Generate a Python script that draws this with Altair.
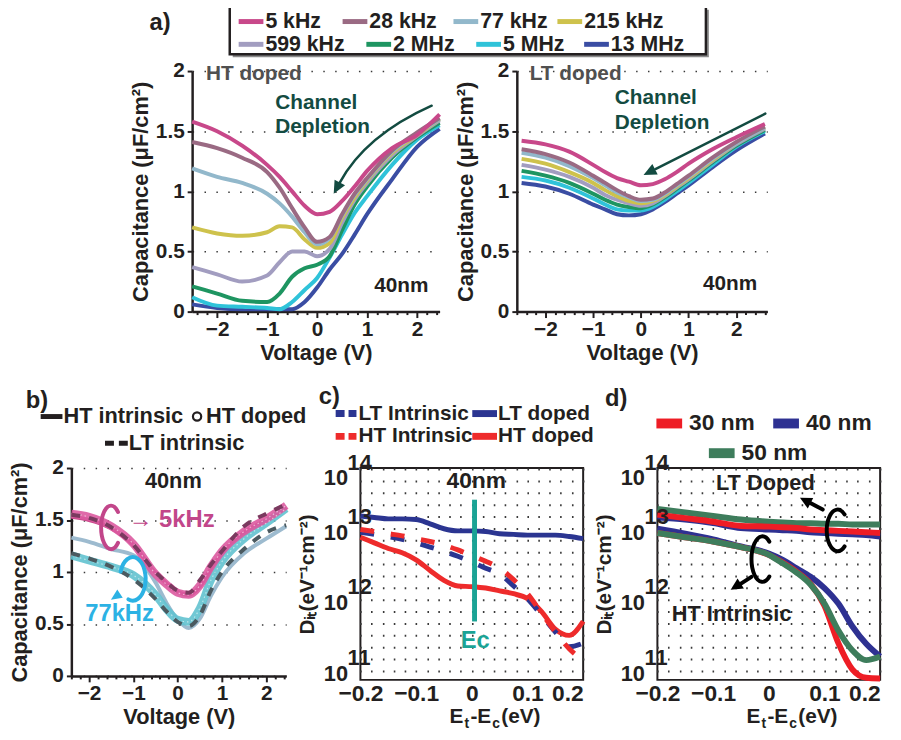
import math
import altair as alt
import pandas as pd

FONT = "Liberation Sans"
INK = "#231F20"
GRID = "#3A3A3A"

# ---------------- data: panel a (C-V, 8 frequencies) ----------------
freq_labels = ["5 kHz", "28 kHz", "77 kHz", "215 kHz", "599 kHz", "2 MHz", "5 MHz", "13 MHz"]
freq_colors = ["#C8488A", "#9A6A83", "#92B8CB", "#CEC24C", "#A29DC0", "#1E9561", "#2FC3D9", "#3A4DA3"]

v_ht = [-2.5, -2.0, -1.5, -1.0, -0.75, -0.5, -0.25, 0.0, 0.25, 0.5, 0.75, 1.0, 1.5, 2.0, 2.45]
ht_5k = [1.58, 1.50, 1.38, 1.22, 1.12, 1.00, 0.88, 0.81, 0.83, 0.92, 1.04, 1.17, 1.36, 1.47, 1.64]
ht_28k = [1.41, 1.36, 1.28, 1.16, 1.03, 0.86, 0.70, 0.58, 0.62, 0.81, 0.98, 1.11, 1.34, 1.49, 1.61]
ht_77k = [1.19, 1.12, 1.07, 0.98, 0.90, 0.79, 0.66, 0.56, 0.61, 0.80, 0.97, 1.10, 1.33, 1.48, 1.60]
ht_215k = [0.70, 0.65, 0.63, 0.66, 0.71, 0.70, 0.60, 0.53, 0.57, 0.78, 0.95, 1.09, 1.32, 1.47, 1.60]
ht_599k = [0.37, 0.31, 0.25, 0.30, 0.41, 0.50, 0.50, 0.46, 0.52, 0.74, 0.93, 1.07, 1.30, 1.46, 1.59]
ht_2m = [0.21, 0.15, 0.09, 0.08, 0.15, 0.29, 0.36, 0.39, 0.46, 0.68, 0.89, 1.04, 1.28, 1.45, 1.57]
ht_5m = [0.12, 0.05, 0.04, 0.03, 0.02, 0.08, 0.18, 0.28, 0.45, 0.64, 0.82, 0.96, 1.22, 1.43, 1.55]
ht_13m = [0.06, 0.03, 0.02, 0.02, 0.02, 0.02, 0.08, 0.20, 0.35, 0.48, 0.64, 0.81, 1.10, 1.37, 1.52]

v_lt = [-2.5, -2.0, -1.5, -1.0, -0.75, -0.5, -0.25, 0.0, 0.25, 0.5, 0.75, 1.0, 1.5, 2.0, 2.6]
lt_5k = [1.42, 1.39, 1.33, 1.22, 1.16, 1.11, 1.08, 1.05, 1.06, 1.10, 1.16, 1.23, 1.35, 1.45, 1.56]
lt_28k = [1.35, 1.31, 1.24, 1.13, 1.07, 1.01, 0.96, 0.93, 0.94, 0.99, 1.06, 1.13, 1.28, 1.41, 1.54]
lt_77k = [1.32, 1.28, 1.21, 1.11, 1.05, 0.99, 0.95, 0.92, 0.93, 0.98, 1.05, 1.12, 1.27, 1.40, 1.53]
lt_215k = [1.27, 1.23, 1.16, 1.07, 1.01, 0.96, 0.92, 0.90, 0.92, 0.97, 1.04, 1.11, 1.26, 1.40, 1.53]
lt_599k = [1.22, 1.18, 1.12, 1.03, 0.97, 0.93, 0.90, 0.88, 0.90, 0.96, 1.03, 1.10, 1.25, 1.39, 1.52]
lt_2m = [1.17, 1.13, 1.07, 0.98, 0.93, 0.89, 0.87, 0.86, 0.89, 0.95, 1.02, 1.09, 1.24, 1.38, 1.51]
lt_5m = [1.12, 1.09, 1.03, 0.94, 0.89, 0.85, 0.84, 0.84, 0.87, 0.93, 1.00, 1.07, 1.22, 1.37, 1.50]
lt_13m = [1.07, 1.04, 0.98, 0.89, 0.85, 0.81, 0.80, 0.81, 0.85, 0.91, 0.98, 1.05, 1.20, 1.34, 1.48]

# ---------------- data: panel b ----------------
v_b = [-2.4, -2.0, -1.5, -1.0, -0.5, -0.25, 0.0, 0.25, 0.5, 0.75, 1.0, 1.5, 2.0, 2.45]
b_5k_ht_intr = [1.53, 1.50, 1.42, 1.26, 0.99, 0.89, 0.81, 0.78, 0.86, 1.03, 1.18, 1.38, 1.50, 1.62]
b_5k_ht_doped = [1.56, 1.53, 1.44, 1.27, 0.98, 0.88, 0.80, 0.78, 0.87, 1.05, 1.20, 1.39, 1.51, 1.64]
b_5k_lt_intr = [1.55, 1.52, 1.43, 1.26, 1.00, 0.90, 0.82, 0.80, 0.92, 1.07, 1.20, 1.44, 1.56, 1.65]
b_77k_ht_intr = [1.33, 1.29, 1.22, 1.16, 0.90, 0.70, 0.54, 0.46, 0.55, 0.77, 0.95, 1.18, 1.32, 1.44]
b_77k_ht_doped = [1.16, 1.11, 1.05, 0.97, 0.78, 0.64, 0.54, 0.52, 0.65, 0.92, 1.10, 1.32, 1.47, 1.61]
b_77k_lt_intr = [1.18, 1.13, 1.05, 0.93, 0.74, 0.62, 0.52, 0.48, 0.58, 0.82, 1.00, 1.22, 1.38, 1.45]

# ---------------- data: panel c (log10 of Dit) ----------------
e_c = [-0.2, -0.175, -0.15, -0.125, -0.1, -0.075, -0.05, -0.025, 0.0, 0.025, 0.05, 0.075, 0.1, 0.125, 0.15, 0.175, 0.2]
c_lt_doped = [13.32, 13.30, 13.28, 13.28, 13.27, 13.21, 13.14, 13.11, 13.11, 13.10, 13.07, 13.06, 13.05, 13.05, 13.05, 13.03, 13.00]
c_lt_intr = [13.09, 13.06, 13.03, 12.99, 12.94, 12.88, 12.82, 12.75, 12.67, 12.58, 12.50, 12.33, 12.15, 11.92, 11.68, 11.47, 11.52]
c_ht_intr = [13.13, 13.10, 13.07, 13.04, 13.00, 12.96, 12.91, 12.84, 12.76, 12.68, 12.58, 12.42, 12.22, 11.95, 11.68, 11.44, 11.28]
c_ht_doped = [13.02, 12.94, 12.86, 12.80, 12.70, 12.55, 12.41, 12.33, 12.32, 12.30, 12.26, 12.22, 12.15, 11.97, 11.72, 11.63, 11.83]

# ---------------- data: panel d (log10 of Dit) ----------------
e_d = [-0.2, -0.15, -0.1, -0.05, 0.0, 0.025, 0.05, 0.075, 0.1, 0.125, 0.15, 0.175, 0.2]
d_lt_30 = [13.34, 13.29, 13.24, 13.18, 13.17, 13.16, 13.15, 13.13, 13.12, 13.11, 13.10, 13.09, 13.08]
d_lt_40 = [13.30, 13.27, 13.22, 13.15, 13.13, 13.12, 13.11, 13.09, 13.08, 13.07, 13.06, 13.05, 13.03]
d_lt_50 = [13.42, 13.37, 13.32, 13.27, 13.24, 13.23, 13.22, 13.22, 13.21, 13.21, 13.20, 13.20, 13.20]
d_ht_30 = [13.08, 13.02, 12.96, 12.88, 12.77, 12.66, 12.53, 12.36, 12.05, 11.52, 11.15, 11.03, 11.02]
d_ht_40 = [13.14, 13.07, 12.99, 12.89, 12.79, 12.70, 12.58, 12.46, 12.30, 12.08, 11.76, 11.51, 11.33]
d_ht_50 = [13.08, 13.02, 12.96, 12.88, 12.77, 12.65, 12.52, 12.35, 12.08, 11.70, 11.42, 11.28, 11.33]
thick_labels = ["30 nm", "40 nm", "50 nm"]
thick_colors = ["#EE1D25", "#2E3192", "#3E7D5C"]

# decade tick labels of the Dit axes (exponents of 10)
dit_exps = [11, 12, 13, 14]

# ---------------- helpers ----------------
ONE = pd.DataFrame({"a": [0]})


def long_df(xs, series, xn, yn, sn, expo=False):
    rows = []
    for name, ys in series:
        for x, y in zip(xs, ys):
            rows.append({xn: x, yn: (10 ** y if expo else y), sn: name})
    return pd.DataFrame(rows)


def txt(s, x, y, size=21, color=INK, align="left", baseline="middle", angle=0):
    return alt.Chart(ONE).mark_text(text=s, align=align, baseline=baseline, fontSize=size,
                                    fontWeight="bold", font=FONT, color=color, angle=angle).encode(
        x=alt.value(x), y=alt.value(y))


def seg(x1, x2, y, color, width, dash=None):
    kw = dict(color=color, strokeWidth=width, strokeCap="butt")
    if dash:
        kw["strokeDash"] = dash
    return alt.Chart(ONE).mark_rule(**kw).encode(x=alt.value(x1), x2=alt.value(x2), y=alt.value(y))


def vseg(x, y1, y2, color, width):
    return alt.Chart(ONE).mark_rule(color=color, strokeWidth=width).encode(
        x=alt.value(x), y=alt.value(y1), y2=alt.value(y2))


def anchor(x, y):
    # invisible 1px mark used only to fix the layout bounds of a row
    return alt.Chart(ONE).mark_rule(color="white", strokeWidth=1, opacity=0).encode(
        x=alt.value(x), y=alt.value(y), y2=alt.value(y + 1))


def glyph(path, color, width=2.5, filled=False):
    return alt.Chart(ONE).mark_point(shape=path, size=4, filled=filled, color=color, opacity=1,
                                     strokeWidth=width, strokeCap="round", strokeJoin="round").encode(
        x=alt.value(0), y=alt.value(0))


def head(tip, frm, length=13, half=6):
    dx, dy = tip[0] - frm[0], tip[1] - frm[1]
    n = math.hypot(dx, dy)
    ux, uy = dx / n, dy / n
    bx, by = tip[0] - ux * length, tip[1] - uy * length
    px, py = -uy, ux
    return (f"M{tip[0]:.1f},{tip[1]:.1f} L{bx + px * half:.1f},{by + py * half:.1f} "
            f"L{bx - px * half:.1f},{by - py * half:.1f} Z")


def ell_arc(cx, cy, rx, ry, a0, a1, sweep):
    x0 = cx + rx * math.cos(math.radians(a0))
    y0 = cy + ry * math.sin(math.radians(a0))
    x1 = cx + rx * math.cos(math.radians(a1))
    y1 = cy + ry * math.sin(math.radians(a1))
    span = (a1 - a0) % 360 if sweep else (a0 - a1) % 360
    large = 1 if span > 180 else 0
    return f"M{x0:.1f},{y0:.1f} A{rx},{ry} 0 {large} {sweep} {x1:.1f},{y1:.1f}"


def rect(x1, x2, y1, y2, fill, stroke=None, sw=0):
    kw = dict(fill=fill, strokeWidth=sw)
    if stroke:
        kw["stroke"] = stroke
    return alt.Chart(ONE).mark_rect(**kw).encode(x=alt.value(x1), x2=alt.value(x2),
                                                 y=alt.value(y1), y2=alt.value(y2))


MAJOR = "abs(datum.value - round(datum.value)) < 0.01"
AX = dict(labelFont=FONT, titleFont=FONT, labelFontWeight="bold", titleFontWeight="bold",
          labelColor=INK, titleColor=INK, domainColor=INK, tickColor=INK,
          labelFlush=False, labelOverlap=False)


def volt_axis(vals):
    return alt.Axis(values=vals, title="Voltage (V)",
                    labelExpr=f"{MAJOR} ? format(round(datum.value), 'd') : ''",
                    tickSize={"condition": {"test": MAJOR, "value": 6}, "value": 3},
                    grid=False, labelFontSize=21, titleFontSize=22, labelPadding=1, titlePadding=3,
                    domainWidth=2.5, tickWidth=2, **AX)


def cap_axis():
    return alt.Axis(values=[0, 0.5, 1, 1.5, 2], format="~g", title="Capacitance (μF/cm²)",
                    grid=True, gridDash=[1.5, 10.5], gridColor=GRID, gridWidth=1.6,
                    tickSize=5, tickWidth=2, domainWidth=2.5, labelFontSize=21, titleFontSize=22,
                    labelPadding=3, titlePadding=3, **AX)


e_ticks = [round(-0.2 + 0.02 * i, 2) for i in range(21)]
MAJ_E = "abs(datum.value*10 - round(datum.value*10)) < 0.01"


def e_axis():
    return alt.Axis(values=e_ticks, title=None, ticks=False, domain=False,
                    labelExpr=f"{MAJ_E} ? (abs(datum.value) < 1e-9 ? '0' : format(datum.value, '~g')) : ''",
                    labelAlign={"condition": {"test": "datum.value > 0.19", "value": "right"}, "value": "center"},
                    grid=True, gridDash=[2, 10], gridColor=GRID, gridWidth=1.6,
                    labelFontSize=23, labelPadding=3, **AX)


def d_axis():
    return alt.Axis(values=[10.0 ** e for e in dit_exps], title="Dᵢₜ(eV⁻¹cm⁻²)", labels=False,
                    ticks=False, domain=False, grid=False, titleFontSize=21, titlePadding=43, **AX)


def dit_labels():
    df = pd.DataFrame({"D": [10.0 ** e for e in dit_exps], "lab": [str(e) for e in dit_exps]})
    kw = dict(align="left", baseline="middle", fontSize=22, fontWeight="bold", font=FONT, color=INK)
    low = alt.Chart(df).transform_filter("datum.D < 5e13")
    top = alt.Chart(df).transform_filter("datum.D > 5e13")
    return [
        low.mark_text(text="10", dy=-6, **kw).encode(x=alt.value(-37), y=alt.Y("D:Q")),
        low.mark_text(dy=-22, **kw).encode(x=alt.value(-13), y=alt.Y("D:Q"), text="lab:N"),
        top.mark_text(text="10", dy=10, **kw).encode(x=alt.value(-37), y=alt.Y("D:Q")),
        top.mark_text(dy=-5, **kw).encode(x=alt.value(-13), y=alt.Y("D:Q"), text="lab:N"),
    ]


# ---------------- panel a ----------------
ht_series = list(zip(freq_labels, [ht_5k, ht_28k, ht_77k, ht_215k, ht_599k, ht_2m, ht_5m, ht_13m]))[::-1]
lt_series = list(zip(freq_labels, [lt_5k, lt_28k, lt_77k, lt_215k, lt_599k, lt_2m, lt_5m, lt_13m]))[::-1]
df_ht = long_df(v_ht, ht_series, "V", "C", "f")
df_lt = long_df(v_lt, lt_series, "V", "C", "f")
fcolor = alt.Color("f:N", scale=alt.Scale(domain=freq_labels, range=freq_colors), legend=None)

xt_ht = [round(-2.4 + 0.2 * i, 1) for i in range(25)]
xt_lt = [round(-2.6 + 0.2 * i, 1) for i in range(27)]

curves_ht = alt.Chart(df_ht).mark_line(strokeWidth=4, interpolate="monotone").encode(
    x=alt.X("V:Q", scale=alt.Scale(domain=[-2.5, 2.45], nice=False, zero=False), axis=volt_axis(xt_ht)),
    y=alt.Y("C:Q", scale=alt.Scale(domain=[0, 2], nice=False), axis=cap_axis()),
    color=fcolor, detail="f:N")
curves_lt = alt.Chart(df_lt).mark_line(strokeWidth=4, interpolate="monotone").encode(
    x=alt.X("V:Q", scale=alt.Scale(domain=[-2.6, 2.65], nice=False, zero=False), axis=volt_axis(xt_lt)),
    y=alt.Y("C:Q", scale=alt.Scale(domain=[0, 2], nice=False), axis=cap_axis()),
    color=fcolor, detail="f:N")

TEAL = "#134B41"
legend_row_y = [-50, -50, -50, -50, -27, -27, -27, -27]
legend_x = [47, 152, 264, 369, 47, 176, 287, 396]
top_legend = [rect(41, 522, -62, -14, "#8C8C8C"), rect(38, 519, -65, -17, "white", INK, 2.5)]
for lab, col, lx, ly in zip(freq_labels, freq_colors, legend_x, legend_row_y):
    top_legend.append(seg(lx, lx + 25, ly, col, 5))
    top_legend.append(txt(lab, lx + 27, ly + 1, size=21.5))

a_left = alt.layer(
    curves_ht,
    txt("HT doped", 14, 3, color="#505050"),
    txt("Channel", 84, 32, color=TEAL),
    txt("Depletion", 84, 57, color=TEAL),
    glyph("M242,35 Q175,65 149,113", TEAL, 2.5),
    glyph(head((143, 124), (175, 65)), TEAL, 1, filled=True),
    txt("40nm", 184, 217),
    txt("a)", -43, -48, size=24),
    *top_legend,
    anchor(100, 303),
).properties(width=250, height=243)

a_right = alt.layer(
    curves_lt,
    txt("LT doped", 13, 3, color="#505050"),
    txt("Channel", 99, 27, color=TEAL),
    txt("Depletion", 99, 53, color=TEAL),
    glyph("M251,43 L140,99", TEAL, 2.5),
    glyph(head((128, 105), (251, 43)), TEAL, 1, filled=True),
    txt("40nm", 188, 215),
).properties(width=253, height=243)

spacer = alt.layer(anchor(-61, 100)).properties(width=44, height=243)

# ---------------- panel b ----------------
b_names = ["5k HT intrinsic", "5k HT doped", "5k LT intrinsic", "77k HT intrinsic", "77k HT doped", "77k LT intrinsic"]
b_cols = ["#C8488A", "#DC5AA0", "#7A3A5F", "#9DBBCF", "#62C2CF", "#4B5A60"]
b_scale = alt.Scale(domain=b_names, range=b_cols)
bx = alt.X("V:Q", scale=alt.Scale(domain=[-2.4, 2.45], nice=False, zero=False),
           axis=volt_axis([round(-2.4 + 0.2 * i, 1) for i in range(25)]))
by = alt.Y("C:Q", scale=alt.Scale(domain=[0, 2], nice=False), axis=cap_axis())
df_b_solid = long_df(v_b, [(b_names[0], b_5k_ht_intr), (b_names[3], b_77k_ht_intr)], "V", "C", "s")
df_b_band = long_df(v_b, [(b_names[4], b_77k_ht_doped), (b_names[1], b_5k_ht_doped)], "V", "C", "s")
df_b_dash = long_df(v_b, [(b_names[2], b_5k_lt_intr), (b_names[5], b_77k_lt_intr)], "V", "C", "s")
bcol = alt.Color("s:N", scale=b_scale, legend=None)
b_solid = alt.Chart(df_b_solid).mark_line(strokeWidth=4, interpolate="monotone").encode(x=bx, y=by, color=bcol, detail="s:N")
b_band = alt.Chart(df_b_band).mark_line(strokeWidth=8, interpolate="monotone", opacity=0.9).encode(x=bx, y=by, color=bcol, detail="s:N")
b_tex = alt.Chart(df_b_band).mark_line(strokeWidth=1.2, interpolate="monotone", color="white", opacity=0.55,
                                       strokeDash=[1.5, 3]).encode(x=bx, y=by, detail="s:N")
b_dash = alt.Chart(df_b_dash).mark_line(strokeWidth=4, interpolate="monotone", strokeDash=[9, 9]).encode(x=bx, y=by, color=bcol, detail="s:N")

PINK = "#C2468A"
BLUEL = "#2CB2E4"
b_panel = alt.layer(
    b_solid, b_band, b_tex, b_dash,
    txt("40nm", 103, 13, size=22, align="center"),
    glyph(ell_arc(40, 60, 10, 22, -45, 45, 0), PINK, 4),
    txt("→ 5kHz", 58, 53, size=24, color=PINK),
    glyph(ell_arc(62, 112, 13, 22, 200, 110, 1), BLUEL, 4),
    glyph(head((40, 133), (58, 121), 11, 5), BLUEL, 1, filled=True),
    txt("77kHz", 14, 148, size=24, color=BLUEL),
    seg(-31, -9, -52, INK, 5),
    txt("HT intrinsic", -8, -52, size=22),
    alt.Chart(ONE).mark_point(shape="circle", size=70, filled=False, color=INK, strokeWidth=2.2, opacity=1).encode(
        x=alt.value(127), y=alt.value(-52)),
    txt("HT doped", 136, -52, size=22),
    seg(34, 57, -25, INK, 5, dash=[9, 5]),
    txt("LT intrinsic", 58, -25, size=22),
    txt("b)", -46, -68, size=24),
    anchor(-63, -90),
).properties(width=217, height=210)

# ---------------- panel c ----------------
C_BLUE = "#2B3591"
C_RED = "#EE2B2B"
c_names = ["LT Intrinsic", "LT doped", "HT Intrinsic", "HT doped"]
c_scale = alt.Scale(domain=c_names, range=[C_BLUE, C_BLUE, C_RED, C_RED])
ex = alt.X("E:Q", scale=alt.Scale(domain=[-0.2, 0.2], nice=False, zero=False), axis=e_axis())
dy = alt.Y("D:Q", scale=alt.Scale(type="log", domain=[1e11, 1e14], nice=False), axis=d_axis())
df_c_solid = long_df(e_c, [("HT doped", c_ht_doped), ("LT doped", c_lt_doped)], "E", "D", "s", expo=True)
df_c_dash = long_df(e_c, [("LT Intrinsic", c_lt_intr), ("HT Intrinsic", c_ht_intr)], "E", "D", "s", expo=True)
ccol = alt.Color("s:N", scale=c_scale, legend=None)
c_solid = alt.Chart(df_c_solid).mark_line(strokeWidth=5, interpolate="monotone").encode(x=ex, y=dy, color=ccol, detail="s:N")
c_dash = alt.Chart(df_c_dash).mark_line(strokeWidth=5, interpolate="monotone", strokeDash=[14, 17]).encode(x=ex, y=dy, color=ccol, detail="s:N")


def et_title():
    parts = []
    x0 = 90
    for s, size, dyy, w in [("E", 21, 0, 14.0), ("t", 14, 7, 4.7), ("-E", 21, 0, 21.0), ("c", 14, 7, 7.8), ("(eV)", 21, 0, 39.6)]:
        parts.append(txt(s, x0, 252 + dyy, size=size))
        x0 += w + 1.2
    return parts


ECOL = "#1BA395"
c_panel = alt.layer(
    c_solid, c_dash,
    *dit_labels(),
    vseg(115.3, 32, 155, ECOL, 5),
    txt("Ec", 116, 175, size=24, color=ECOL, align="center"),
    txt("40nm", 117, 13, size=23, align="center"),
    seg(-25, -4, -55, C_BLUE, 7, dash=[9, 4]),
    txt("LT Intrinsic", -2, -55),
    seg(113, 138, -55, C_BLUE, 7),
    txt("LT doped", 139, -55),
    seg(-25, -4, -32, C_RED, 7, dash=[9, 4]),
    txt("HT Intrinsic", -2, -32),
    seg(113, 138, -32, C_RED, 7),
    txt("HT doped", 139, -32),
    txt("c)", -42, -72, size=24),
    *et_title(),
).properties(width=225, height=214, view=alt.ViewBackground(stroke=INK, strokeWidth=2))

# ---------------- panel d ----------------
d_scale = alt.Scale(domain=thick_labels, range=thick_colors)
df_d = long_df(e_d, [("40 nm", d_lt_40), ("50 nm", d_lt_50), ("30 nm", d_lt_30)], "E", "D", "t", expo=True)
df_d2 = long_df(e_d, [("40 nm", d_ht_40), ("30 nm", d_ht_30), ("50 nm", d_ht_50)], "E", "D", "t", expo=True)
dcol = alt.Color("t:N", scale=d_scale, legend=None)
d_lt = alt.Chart(df_d).mark_line(strokeWidth=6, interpolate="monotone").encode(x=ex, y=dy, color=dcol, detail="t:N")
d_ht = alt.Chart(df_d2).mark_line(strokeWidth=6, interpolate="monotone").encode(x=ex, y=dy, color=dcol, detail="t:N")

d_leg = []
for lab, col, (sx, sy) in zip(thick_labels, thick_colors, [(-1, -45), (117, -45), (52, -15)]):
    d_leg.append(seg(sx, sx + 26, sy, col, 10))
    d_leg.append(txt(lab, sx + 33, sy, size=23))

d_panel = alt.layer(
    d_lt, d_ht,
    *dit_labels(),
    txt("LT Doped", 109, 15, size=22, align="center"),
    glyph(ell_arc(182, 63, 11, 21, -50, 50, 0), "black", 4),
    glyph("M167,42 L154,35", "black", 4),
    glyph(head((144, 30), (167, 42), 12, 6), "black", 1, filled=True),
    glyph(ell_arc(106, 92, 11, 23, -50, 50, 0), "black", 4),
    glyph("M95,110 L84,117", "black", 4),
    glyph(head((74, 123), (95, 110), 12, 6), "black", 1, filled=True),
    txt("HT Intrinsic", 75, 148, size=22, align="center"),
    txt("d)", -53, -70, size=24),
    *d_leg,
    *et_title(),
).properties(width=225, height=214, view=alt.ViewBackground(stroke=INK, strokeWidth=2))

# ---------------- layout ----------------
row1 = alt.hconcat(spacer, a_left, a_right, spacing=78, bounds="flush").resolve_scale(color="independent")
row2 = alt.hconcat(b_panel, c_panel, d_panel, spacing=75, bounds="flush").resolve_scale(color="independent")
chart = alt.vconcat(row1, row2, spacing=7).resolve_scale(color="independent").configure(
    padding={"left": 0, "top": -7, "right": 0, "bottom": 0}, background="white"
).configure_view(stroke=None)

chart.save("out.html", embed_options={"renderer": "svg", "actions": False})
